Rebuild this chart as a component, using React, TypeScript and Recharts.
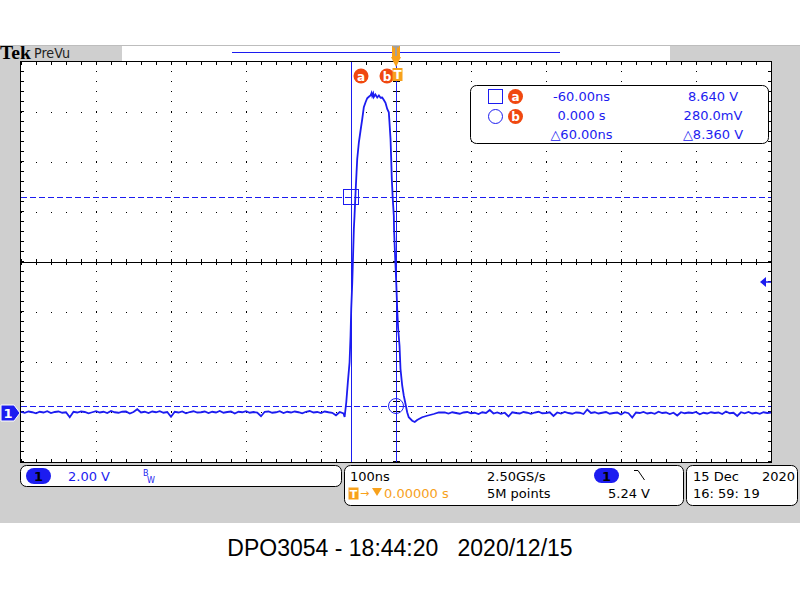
import React from 'react'
import { LineChart, Line, XAxis, YAxis, ReferenceLine, ReferenceDot } from 'recharts'

// scope settings
const TIME_PER_DIV_NS = 100
const VOLTS_PER_DIV = 2
const POSITION_DIV = -3.02
const SAMPLE_STEP_NS = 5
const PRE_START_NS = -500
const POST_START_NS = 65

const cursorA = { t: -60, v: 8.64 }
const cursorB = { t: 0, v: 0.28 }
const triggerLevelV = 5.24
const triggerPosNs = 0

const gridTimes = [-400, -300, -200, -100, 100, 200, 300, 400]
const gridDivs = [-3, -2, -1, 1, 2, 3]

// baseline before the pulse, one value per sample (V)
const preSamples = [
  0.05, 0.01, 0.06, 0.03, -0.01, 0.05, 0.02, 0.07, 0.0, 0.04,
  0.06, 0.01, 0.03, -0.17, 0.05, 0.02, 0.06, 0.04, -0.01, 0.03,
  0.07, 0.02, 0.05, 0.0, 0.08, 0.03, 0.01, 0.05, 0.06, -0.02,
  0.04, 0.15, 0.02, 0.05, 0.0, 0.06, 0.03, 0.07, 0.01, 0.04,
  -0.15, 0.05, 0.02, 0.06, -0.01, 0.04, 0.07, 0.02, 0.03, 0.06,
  0.0, 0.05, 0.02, 0.08, 0.01, 0.04, 0.06, -0.02, 0.05, 0.03,
  0.07, 0.01, 0.04, 0.02, -0.13, 0.05, 0.06, 0.01, 0.03, 0.07,
  0.0, 0.05, 0.02, 0.06, 0.03, -0.01, 0.05, 0.08, 0.02, 0.04,
  0.0, 0.06, 0.03, 0.01, -0.09, 0.04, -0.02,
]

// the pulse itself: [time ns, volts]
const pulsePoints: [number, number][] = [
  [-68.5, -0.16], [-66.3, 0.43], [-64.2, 1.23], [-61.9, 2.03], [-60.6, 3.09],
  [-59.7, 4.16], [-58.3, 5.23], [-57.5, 6.03], [-56.2, 7.36], [-55.3, 7.89],
  [-53.9, 8.83], [-52.6, 9.63], [-51.7, 10.16], [-49.5, 10.83], [-47.3, 11.29],
  [-45.0, 11.76], [-42.9, 12.23], [-40.6, 12.43], [-38.4, 12.59], [-36.2, 12.65],
  [-34.0, 12.7], [-32.6, 12.8], [-31.7, 12.68], [-30.4, 12.78], [-29.6, 12.64],
  [-27.5, 12.74], [-25.0, 12.62], [-22.8, 12.7], [-20.6, 12.61], [-18.4, 12.62],
  [-16.2, 12.52], [-14.0, 12.41], [-11.7, 12.16], [-9.6, 12.03], [-8.7, 11.63],
  [-7.3, 10.96], [-6.4, 10.16], [-5.6, 9.36], [-4.3, 8.56], [-2.9, 7.89],
  [-2.6, 7.36], [-1.6, 6.56], [0.3, 5.24], [1.6, 4.16], [2.9, 3.36],
  [4.7, 2.69], [6.0, 1.76], [8.3, 1.09], [10.4, 0.69], [12.7, 0.36],
  [14.9, 0.03], [17.0, -0.17], [21.6, -0.31], [25.0, -0.36], [28.2, -0.28],
  [34.9, -0.17], [41.5, -0.11], [50.3, -0.04], [57.0, 0.02],
]

// baseline after the pulse (V)
const postSamples = [
  0.02, -0.02, 0.03, 0.0, -0.03, 0.02, 0.04, -0.01, 0.01, -0.04,
  0.03, 0.0, 0.12, -0.02, 0.02, -0.03, 0.01, -0.14, 0.03, 0.0,
  -0.02, 0.04, 0.01, -0.03, 0.02, 0.05, -0.01, 0.0, 0.03, -0.12,
  0.02, -0.02, 0.04, 0.0, -0.03, 0.02, 0.01, -0.04, 0.14, 0.0,
  0.03, -0.02, 0.01, 0.04, -0.03, 0.0, 0.02, -0.06, 0.03, -0.01,
  -0.18, 0.02, 0.0, 0.04, -0.02, 0.01, -0.03, 0.05, 0.0, 0.02,
  -0.04, 0.01, -0.1, 0.03, -0.01, 0.02, 0.0, 0.04, -0.05, 0.01,
  -0.02, 0.03, 0.0, 0.02, -0.04, 0.06, -0.01, 0.01, -0.12, 0.03,
  -0.01, 0.04, -0.02, 0.01, -0.03, 0.03, 0.0, 0.02,
]

const readoutRows = [
  { time: '-60.00ns', volt: '8.640 V' },
  { time: '0.000 s', volt: '280.0mV' },
  { time: '\u25B360.00ns', volt: '\u25B38.360 V' },
]

const trace = [
  ...preSamples.map((v, i) => ({ t: PRE_START_NS + i * SAMPLE_STEP_NS, v })),
  ...pulsePoints.map(([t, v]) => ({ t, v })),
  ...postSamples.map((v, i) => ({ t: POST_START_NS + i * SAMPLE_STEP_NS, v })),
]

const centerV = -POSITION_DIV * VOLTS_PER_DIV
const yDomain: [number, number] = [centerV - 4 * VOLTS_PER_DIV, centerV + 4 * VOLTS_PER_DIV]
const xDomain: [number, number] = [-5 * TIME_PER_DIV_NS, 5 * TIME_PER_DIV_NS]

const BLUE = '#1c1cf0'
const ORANGE = '#f7a11c'
const RED = '#f04810'
const GRAY = '#cfcfcf'
const UI_FONT = '"DejaVu Sans", sans-serif'

// pixel-aligned 1px line for the cursors
const cursorLine = (dashed: boolean) => (p: any) => {
  const vertical = Math.abs(p.x1 - p.x2) < 0.01
  const x1 = vertical ? Math.round(p.x1) + 0.5 : p.x1
  const x2 = vertical ? Math.round(p.x2) + 0.5 : p.x2
  const y1 = vertical ? p.y1 : Math.round(p.y1) + 0.5
  const y2 = vertical ? p.y2 : Math.round(p.y2) + 0.5
  return (
    <line x1={x1} y1={y1} x2={x2} y2={y2} stroke={BLUE} strokeWidth={1} strokeDasharray={dashed ? '6 3' : undefined} />
  )
}

const TrigPosMarker = (p: any) => {
  const { cx, cy } = p
  return (
    <g>
      <rect x={cx - 4} y={cy - 16} width={8} height={11} fill={ORANGE} />
      <rect x={cx - 1} y={cy - 16} width={2} height={10} fill="#a0a0a0" />
      <rect x={cx - 3} y={cy - 16} width={6} height={1.5} fill="#a0a0a0" />
      <polygon points={`${cx - 5},${cy - 5} ${cx + 5},${cy - 5} ${cx},${cy + 5}`} fill={ORANGE} />
      <rect x={cx - 3.5} y={cy + 6} width={10} height={13} fill={ORANGE} />
      <text x={cx + 1.5} y={cy + 17} textAnchor="middle" fill="#fff" fontSize={12} fontWeight="bold" fontFamily={UI_FONT}>
        T
      </text>
    </g>
  )
}

const cursorLabel = (letter: string, dx: number) => (p: any) => (
  <g>
    <circle cx={p.cx + dx} cy={p.cy + 14} r={7.5} fill={RED} />
    <text x={p.cx + dx} y={p.cy + 18.5} textAnchor="middle" fill="#fff" fontSize={12} fontWeight="bold" fontFamily={UI_FONT}>
      {letter}
    </text>
  </g>
)

const SquareMark = (p: any) => (
  <rect x={Math.round(p.cx) - 7.5} y={Math.round(p.cy) - 7.5} width={15} height={15} fill="none" stroke={BLUE} strokeWidth={1} />
)

const CircleMark = (p: any) => <circle cx={p.cx} cy={p.cy} r={7.5} fill="none" stroke={BLUE} strokeWidth={1} />

const GroundMark = (p: any) => {
  const { cx, cy } = p
  return (
    <g>
      <polygon
        points={`${cx - 20},${cy - 8} ${cx - 7},${cy - 8} ${cx - 1},${cy} ${cx - 7},${cy + 8} ${cx - 20},${cy + 8}`}
        fill={BLUE}
        stroke="#fff"
        strokeWidth={1}
      />
      <text x={cx - 13} y={cy + 5} textAnchor="middle" fill="#fff" fontSize={13} fontWeight="bold" fontFamily={UI_FONT}>
        1
      </text>
    </g>
  )
}

const TrigLevelMark = (p: any) => {
  const { cx, cy } = p
  return (
    <g>
      <polygon points={`${cx - 11},${cy} ${cx - 5},${cy - 5} ${cx - 5},${cy + 5}`} fill={BLUE} />
      <line x1={cx - 5} x2={cx} y1={cy} y2={cy} stroke={BLUE} strokeWidth={1.5} />
    </g>
  )
}

function Background() {
  return (
    <svg width={800} height={600} style={{ position: 'absolute', left: 0, top: 0 }}>
      <rect x={0} y={0} width={800} height={600} fill="#fff" />
      <rect x={0} y={45} width={800} height={478} fill={GRAY} />
      <line x1={0} x2={800} y1={45.5} y2={45.5} stroke="#bdbdbd" />
      {/* header */}
      <text x={0} y={59} fontFamily='"Liberation Serif", serif' fontWeight="bold" fontSize={19} fill="#000" textLength={31} lengthAdjust="spacingAndGlyphs">
        Tek
      </text>
      <text x={34} y={58} fontFamily='"DejaVu Sans Condensed", sans-serif' fontSize={14} fill="#222" textLength={36} lengthAdjust="spacingAndGlyphs">
        PreVu
      </text>
      <rect x={122} y={46} width={548} height={15} fill="#fff" />
      <line x1={232} x2={560} y1={52.5} y2={52.5} stroke={BLUE} strokeWidth={1} />
      {/* graticule area */}
      <rect x={20.5} y={61.5} width={751} height={401} fill="#fff" stroke="#000" strokeWidth={1} />
      {/* status bar */}
      <rect x={20.5} y={465.5} width={321} height={21} rx={6} fill="#fff" stroke="#000" />
      <rect x={26} y={468} width={25} height={16} rx={8} fill={BLUE} />
      <text x={38.5} y={481} textAnchor="middle" fontFamily={UI_FONT} fontSize={13} fontWeight="bold" fill="#000">
        1
      </text>
      <text x={68} y={481} fontFamily={UI_FONT} fontSize={13} fill={BLUE}>
        2.00 V
      </text>
      <text x={143} y={476} fontFamily={UI_FONT} fontSize={8} fill={BLUE}>
        B
      </text>
      <text x={147} y={483} fontFamily={UI_FONT} fontSize={8} fill={BLUE}>
        W
      </text>
      <rect x={344.5} y={465.5} width={339} height={40} rx={6} fill="#fff" stroke="#000" />
      <text x={350} y={481} fontFamily={UI_FONT} fontSize={13} fill="#000">
        100ns
      </text>
      <rect x={348.5} y={487.5} width={10} height={12} fill={ORANGE} />
      <text x={353.5} y={498} textAnchor="middle" fontFamily={UI_FONT} fontSize={11} fontWeight="bold" fill="#fff">
        T
      </text>
      <text x={360} y={497} fontFamily={UI_FONT} fontSize={11} fill={ORANGE}>
        {'\u2192'}
      </text>
      <polygon points="372,488 382,488 377,496" fill={ORANGE} />
      <text x={384} y={498} fontFamily={UI_FONT} fontSize={13} fill={ORANGE}>
        0.00000 s
      </text>
      <text x={487} y={481} fontFamily={UI_FONT} fontSize={13} fill="#000">
        2.50GS/s
      </text>
      <text x={487} y={498} fontFamily={UI_FONT} fontSize={13} fill="#000">
        5M points
      </text>
      <rect x={594} y={468} width={25} height={15} rx={7.5} fill={BLUE} />
      <text x={606.5} y={480.5} textAnchor="middle" fontFamily={UI_FONT} fontSize={13} fontWeight="bold" fill="#000">
        1
      </text>
      <polyline points="634,470.5 638,470.5 644.5,480" fill="none" stroke="#000" strokeWidth={1} />
      <text x={608} y={498} fontFamily={UI_FONT} fontSize={13} fill="#000">
        5.24 V
      </text>
      <rect x={686.5} y={465.5} width={111} height={40} rx={6} fill="#fff" stroke="#000" />
      <text x={693} y={481} fontFamily={UI_FONT} fontSize={13} fill="#000">
        15 Dec
      </text>
      <text x={762} y={481} fontFamily={UI_FONT} fontSize={13} fill="#000">
        2020
      </text>
      <text x={693} y={498} fontFamily={UI_FONT} fontSize={13} fill="#000" style={{ whiteSpace: 'pre' }}>
        16: 59: 19
      </text>
      {/* caption */}
      <text x={400} y={556} textAnchor="middle" fontFamily='"Liberation Sans", Arial, sans-serif' fontSize={23} fill="#000" style={{ whiteSpace: 'pre' }}>
        DPO3054 - 18:44:20   2020/12/15
      </text>
    </svg>
  )
}

function CursorReadout() {
  return (
    <svg width={800} height={600} style={{ position: 'absolute', left: 0, top: 0, pointerEvents: 'none' }}>
      <rect x={470.5} y={85.5} width={298} height={58} rx={6} fill="#fff" stroke="#000" />
      <rect x={488.5} y={89.5} width={14} height={14} fill="none" stroke={BLUE} />
      <circle cx={495.5} cy={116.5} r={7} fill="none" stroke={BLUE} />
      {['a', 'b'].map((l, i) => (
        <g key={l}>
          <circle cx={515.5} cy={96.5 + i * 20} r={7.5} fill={RED} />
          <text x={515.5} y={101 + i * 20} textAnchor="middle" fill="#fff" fontSize={12} fontWeight="bold" fontFamily={UI_FONT}>
            {l}
          </text>
        </g>
      ))}
      {readoutRows.map((r, i) => (
        <g key={i} fontFamily={UI_FONT} fontSize={13} fill={BLUE}>
          <text x={581.5} y={101 + i * 19} textAnchor="middle" style={{ whiteSpace: 'pre' }}>
            {r.time}
          </text>
          <text x={713} y={101 + i * 19} textAnchor="middle" style={{ whiteSpace: 'pre' }}>
            {r.volt}
          </text>
        </g>
      ))}
    </svg>
  )
}

export default function App() {
  const tickT = 2
  const tickV = 0.06
  return (
    <div style={{ position: 'absolute', left: 0, top: 0, width: 800, height: 600, background: '#fff' }}>
      <Background />
      <div style={{ position: 'absolute', left: 0, top: 0 }}>
        <LineChart width={800} height={600} data={trace} margin={{ top: 62, right: 29, bottom: 138, left: 21 }}>
          <XAxis type="number" dataKey="t" domain={xDomain} hide allowDataOverflow />
          <YAxis type="number" domain={yDomain} hide allowDataOverflow />
          {gridTimes.map((t) => (
            <ReferenceLine key={`gx${t}`} x={t} stroke="#000" strokeDasharray="1 9" shapeRendering="crispEdges" />
          ))}
          {gridDivs.map((d) => (
            <ReferenceLine key={`gy${d}`} y={centerV + d * VOLTS_PER_DIV} stroke="#000" strokeDasharray="1 14" shapeRendering="crispEdges" />
          ))}
          <ReferenceLine y={centerV} stroke="#000" strokeWidth={1} shapeRendering="crispEdges" />
          <ReferenceLine y={centerV} stroke="#000" strokeWidth={6} strokeDasharray="1 14" shapeRendering="crispEdges" />
          <ReferenceLine x={0} stroke="#000" strokeDasharray="1 4" shapeRendering="crispEdges" />
          <ReferenceLine x={0} stroke="#000" strokeWidth={7} strokeDasharray="1 9" shapeRendering="crispEdges" />
          <ReferenceLine y={yDomain[1] - tickV} stroke="#000" strokeWidth={3} strokeDasharray="1 14" shapeRendering="crispEdges" />
          <ReferenceLine y={yDomain[0] + tickV} stroke="#000" strokeWidth={3} strokeDasharray="1 14" shapeRendering="crispEdges" />
          <ReferenceLine x={xDomain[0] + tickT} stroke="#000" strokeWidth={3} strokeDasharray="1 9" shapeRendering="crispEdges" />
          <ReferenceLine x={xDomain[1] - tickT} stroke="#000" strokeWidth={3} strokeDasharray="1 9" shapeRendering="crispEdges" />
          <ReferenceLine x={cursorA.t} shape={cursorLine(false)} />
          <ReferenceLine x={cursorB.t} shape={cursorLine(false)} />
          <ReferenceLine y={cursorA.v} shape={cursorLine(true)} />
          <ReferenceLine y={cursorB.v} shape={cursorLine(true)} />
          <Line
            type="linear"
            dataKey="v"
            stroke={BLUE}
            strokeWidth={1.8}
            dot={false}
            isAnimationActive={false}
          />
          <ReferenceDot x={cursorA.t} y={cursorA.v} ifOverflow="visible" shape={SquareMark} />
          <ReferenceDot x={cursorB.t} y={cursorB.v} ifOverflow="visible" shape={CircleMark} />
          <ReferenceDot x={xDomain[0]} y={0} ifOverflow="visible" shape={GroundMark} />
          <ReferenceDot x={xDomain[1]} y={triggerLevelV} ifOverflow="visible" shape={TrigLevelMark} />
          <ReferenceDot x={cursorA.t} y={yDomain[1]} ifOverflow="visible" shape={cursorLabel('a', 10)} />
          <ReferenceDot x={cursorB.t} y={yDomain[1]} ifOverflow="visible" shape={cursorLabel('b', -9)} />
          <ReferenceDot x={triggerPosNs} y={yDomain[1]} ifOverflow="visible" shape={TrigPosMarker} />
        </LineChart>
      </div>
      <CursorReadout />
    </div>
  )
}
